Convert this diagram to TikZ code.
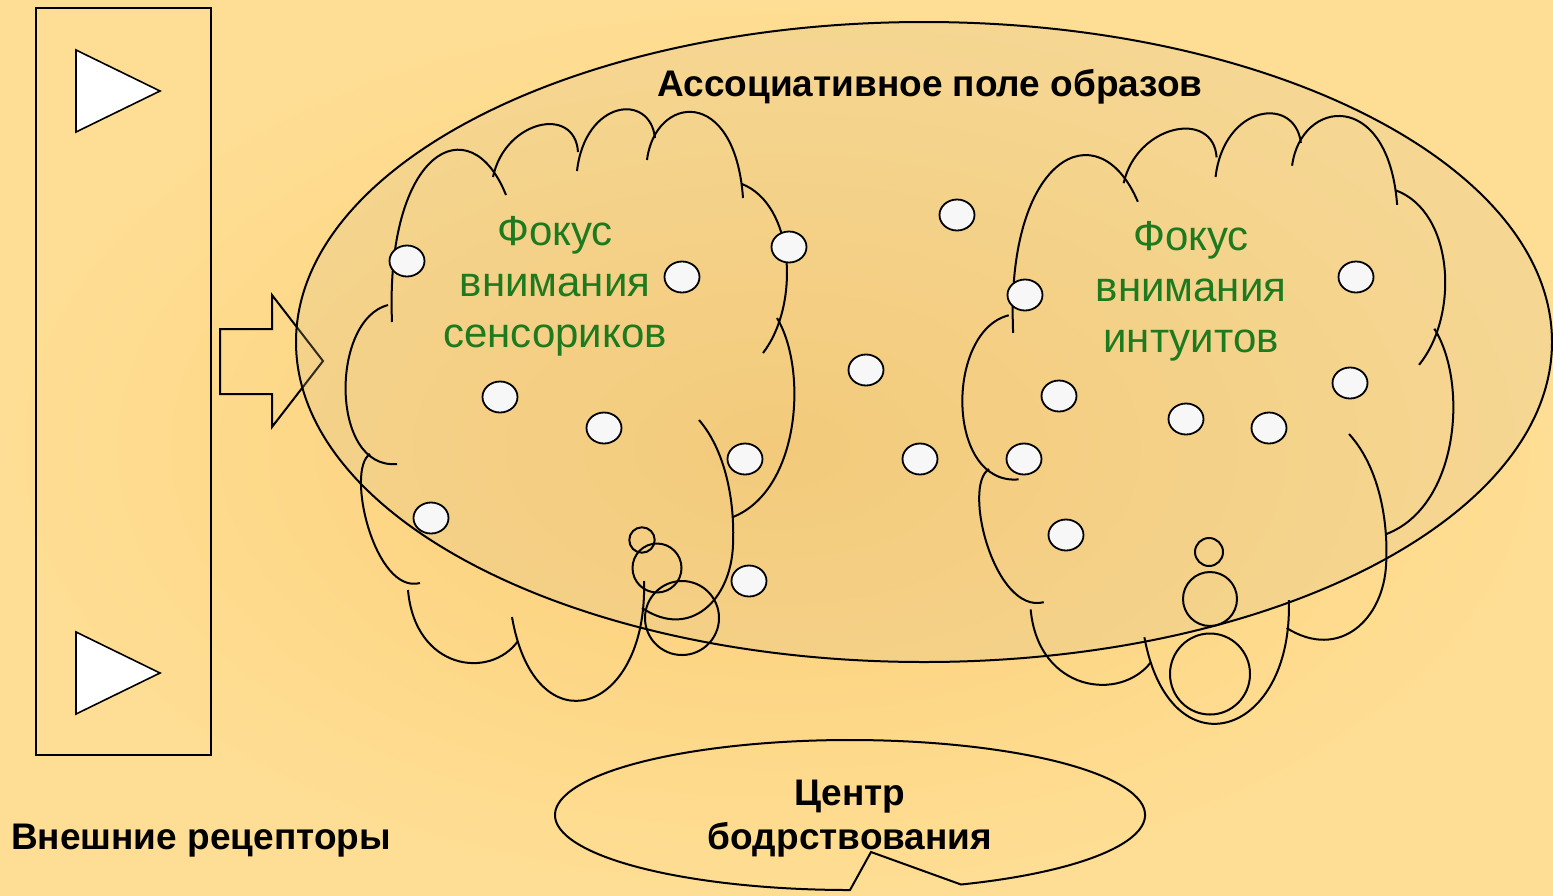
\documentclass[tikz,border=0pt]{standalone}
\usepackage{fontspec}
\setmainfont{Liberation Sans}
\usepackage{tikz}

\definecolor{bgin}{RGB}{252,206,118}
\definecolor{bgout}{RGB}{254,222,148}
\definecolor{fieldtint}{RGB}{215,192,145}
\definecolor{focusgreen}{RGB}{30,122,30}
\definecolor{spotwhite}{RGB}{247,247,247}

\begin{document}
\begin{tikzpicture}[
	x=1pt, y=1pt,
	outline/.style={draw=black, line width=2pt},
	spot/.style={draw=black, line width=1.8pt, fill=spotwhite},
	focus text/.style={text=focusgreen, align=center, font=\fontsize{42}{51}\selectfont},
	bold text/.style={align=center, font=\bfseries\fontsize{37}{44}\selectfont},
	focus cloud/.pic={
		\draw[outline] (392,-322) .. controls (385,-150) and (470,-105) .. (506,-195);
		\draw[outline] (493,-177) .. controls (505,-120) and (575,-105) .. (578,-152);
		\draw[outline] (577,-171) .. controls (585,-100) and (650,-92) .. (655,-138);
		\draw[outline] (647,-160) .. controls (655,-95) and (735,-85) .. (743,-198);
		\draw[outline] (742,-184) .. controls (795,-205) and (800,-305) .. (763,-353);
		\draw[outline] (777,-318) .. controls (808,-370) and (800,-490) .. (733,-517);
		\draw[outline] (699,-420) .. controls (725,-450) and (735,-500) .. (733,-545)
			.. controls (731,-600) and (690,-640) .. (642,-608);
		\draw[outline] (644,-581) .. controls (648,-715) and (535,-750) .. (512,-617);
		\draw[outline] (518,-641) .. controls (490,-680) and (415,-670) .. (408,-590);
		\draw[outline] (420,-583) .. controls (375,-595) and (345,-470) .. (370,-454);
		\draw[outline] (388,-305) .. controls (330,-320) and (330,-470) .. (397,-464);
	}
	]
	% background
	\fill[inner color=bgin, outer color=bgout] (0,0) rectangle (1553,-895);
	\useasboundingbox (0,0) rectangle (1553,-895);
	% receptors
	\draw[outline] (36,-8) rectangle (211,-755);
	\foreach \y in {50,632}
		\draw[outline, line width=1.6pt, fill=white] (76,-\y) -- (160,-\y-41) -- (76,-\y-82) -- cycle;
	\draw[outline] (220,-329) -- (272,-329) -- (272,-295) -- (323,-361)
		-- (272,-427) -- (272,-394) -- (220,-394) -- cycle;
	% field of images
	\draw[outline, fill=fieldtint, fill opacity=0.22] (924,-342) ellipse [x radius=628, y radius=320];
	\node[bold text, anchor=base] (field) at (930,-96) {Ассоциативное поле образов};
	% clouds
	\pic at (0,0) {focus cloud};
	\begin{scope}[shift={(965,-112)}, xscale=1.094, yscale=1.032, shift={(-348,108)}]
		\pic[transform shape] at (0,0) {focus cloud};
	\end{scope}
	\draw[outline] (642,-540) circle [radius=12.7];
	\draw[outline] (657,-568) circle [radius=24.5];
	\draw[outline] (682,-618) circle [radius=37];
	\draw[outline] (1209,-552) circle [radius=14];
	\draw[outline] (1210,-599) circle [radius=27];
	\draw[outline] (1210,-674) ellipse [x radius=40, y radius=40.5];
	% images
	\foreach \x/\y in {407/261, 682/277, 789/247, 500/397, 604/428, 745/459, 431/518, 749/581,
		957/215, 866/370, 920/459,
		1025/295, 1356/277, 1350/383, 1059/396, 1186/419, 1269/428, 1024/459, 1066/535}
		\draw[spot] (\x,-\y) ellipse [x radius=17.5, y radius=15.5];
	\node[focus text] (sensors) at (555,-286) {Фокус\\внимания\\сенсориков};
	\node[focus text] (intuits) at (1191,-291) {Фокус\\внимания\\интуитов};
	% labels
	\node[bold text, anchor=base] (receptors) at (201,-849) {Внешние рецепторы};
	\draw[outline] (961,-884.5) arc[start angle=-67.9, end angle=270, x radius=295, y radius=75]
		-- (871,-852) -- cycle;
	\node[bold text] (wake) at (850,-819) {Центр\\бодрствования};
\end{tikzpicture}
\end{document}
